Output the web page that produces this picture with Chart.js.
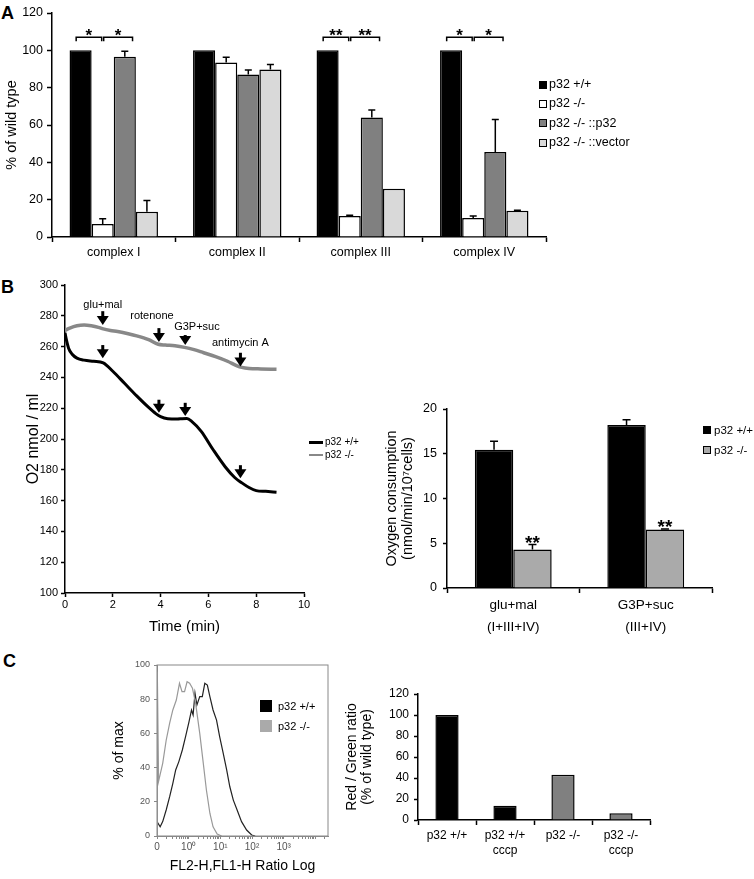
<!DOCTYPE html>
<html>
<head>
<meta charset="utf-8">
<script src="https://cdn.jsdelivr.net/npm/chart.js@4.4.1/dist/chart.umd.min.js"></script>
<style>
body { margin: 0; background: #fff; font-family: "Liberation Sans", Arial, sans-serif; }
#wrap { position: relative; width: 754px; height: 879px; overflow: hidden; }
canvas { position: absolute; }
.letter { position: absolute; font-weight: bold; font-size: 18px; line-height: 18px; }
.lg { position: absolute; white-space: nowrap; }
.lg div { display: flex; align-items: center; }
.sw { display: inline-block; box-sizing: border-box; }
</style>
</head>
<body>
<div id="wrap">
  <div class="letter" style="left:1px;top:4px">A</div>
  <div class="letter" style="left:1px;top:278px">B</div>
  <div class="letter" style="left:3px;top:652px">C</div>

  <canvas id="chartA" width="754" height="265" style="left:0;top:0"></canvas>
  <canvas id="chartB1" width="340" height="370" style="left:0;top:270px"></canvas>
  <canvas id="chartB2" width="414" height="370" style="left:340px;top:270px"></canvas>
  <canvas id="chartC1" width="240" height="229" style="left:100px;top:650px"></canvas>
  <canvas id="chartC2" width="330" height="199" style="left:330px;top:680px"></canvas>

  <div class="lg" style="left:539px;top:75px;font-size:12.5px;line-height:19.3px">
    <div><span class="sw" style="width:8px;height:8px;background:#000;border:1px solid #000;margin-right:2px"></span>p32 +/+</div>
    <div><span class="sw" style="width:8px;height:8px;background:#fff;border:1px solid #000;margin-right:2px"></span>p32 -/-</div>
    <div><span class="sw" style="width:8px;height:8px;background:#808080;border:1px solid #000;margin-right:2px"></span>p32 -/- ::p32</div>
    <div><span class="sw" style="width:8px;height:8px;background:#d9d9d9;border:1px solid #000;margin-right:2px"></span>p32 -/- ::vector</div>
  </div>

  <div class="lg" style="left:309px;top:436px;font-size:10px;line-height:12.5px">
    <div><span class="sw" style="width:14px;height:2.5px;background:#000;margin-right:2px"></span>p32 +/+</div>
    <div><span class="sw" style="width:14px;height:2.5px;background:#888;margin-right:2px"></span>p32 -/-</div>
  </div>

  <div class="lg" style="left:703px;top:420px;font-size:11.5px;line-height:20px">
    <div><span class="sw" style="width:8px;height:8px;background:#000;border:1px solid #000;margin-right:3px"></span>p32 +/+</div>
    <div><span class="sw" style="width:8px;height:8px;background:#aaa;border:1px solid #000;margin-right:3px"></span>p32 -/-</div>
  </div>

  <div class="lg" style="left:260px;top:696px;font-size:11px;line-height:20px">
    <div><span class="sw" style="width:12px;height:12px;background:#000;margin-right:6px"></span>p32 +/+</div>
    <div><span class="sw" style="width:12px;height:12px;background:#aaa;margin-right:6px"></span>p32 -/-</div>
  </div>
</div>

<script>
// ---- panel A: complex activities (% of wild type)
const complexLabels = ['complex I', 'complex II', 'complex III', 'complex IV'];
const wtValues = [100, 100, 100, 100];
const koValues = [7, 93.5, 11.2, 10.2];
const koErr = [2.8, 2.8, 0.5, 1];
const rescueValues = [96.5, 87, 64, 45.5];
const rescueErr = [3, 2.5, 4, 17.5];
const vectorValues = [13.5, 89.7, 25.8, 14];
const vectorErr = [6, 2.7, 0, 0.3];
const aTicks = [0, 20, 40, 60, 80, 100, 120];

// significance brackets (group, from bar, to bar, text)
const sigGroups = [0, 0, 2, 2, 3, 3];
const sigFrom = [0, 1, 0, 1, 0, 1];
const sigTo = [1, 2, 1, 2, 1, 2];
const sigText = ['*', '*', '**', '**', '*', '*'];
const sigLevel = 107;

// ---- panel B left: oxygen traces
const wtTime = [0, 0.05, 0.15, 0.3, 0.5, 0.8, 1.2, 1.6, 2.0, 2.5, 3.0, 3.5, 3.8, 4.0, 4.3, 4.7, 4.9, 5.1, 5.3, 5.7, 6.2, 6.7, 7.1, 7.4, 7.7, 8.0, 8.4, 8.85];
const wtO2 = [269, 265, 259, 255, 252.5, 251.2, 250.5, 249.5, 244, 236, 228, 220.5, 216.5, 214.5, 213.2, 213, 213.2, 213.3, 211.5, 205, 193, 182, 175, 171.5, 168.5, 166.5, 166, 165.5];
const koTime = [0, 0.2, 0.5, 0.8, 1.1, 1.4, 1.6, 1.9, 2.2, 2.6, 3.0, 3.5, 3.9, 4.2, 4.6, 5.0, 5.4, 5.8, 6.3, 6.8, 7.2, 7.4, 7.7, 8.2, 8.85];
const koO2 = [270.5, 272, 273.5, 274, 273.5, 272.5, 271.5, 270.5, 269.8, 268.5, 267, 264.5, 261.5, 261, 260.5, 259.5, 258, 256, 253.5, 250.5, 247.5, 246.5, 245.8, 245.5, 245.3];

const arrowTimes = [1.58, 3.93, 5.03, 7.34];
const koArrowTop = [283, 272, 267.5, 256];
const koArrowTip = [274, 263, 261, 247];
const wtArrowTop = [261, 225.5, 223.5, 183];
const wtArrowTip = [252.5, 217, 215, 174.5];
const eventLabels = ['glu+mal', 'rotenone', 'G3P+suc', 'antimycin A'];
const eventLabelTimes = [1.58, 3.64, 5.52, 7.34];
const eventLabelLevels = [287, 280, 273, 262.6];

// ---- panel B right: oxygen consumption
const substrateLabels = [['glu+mal', '(I+III+IV)'], ['G3P+suc', '(III+IV)']];
const consWT = [15.45, 18.2];
const consWTErr = [0.95, 0.6];
const consKO = [4.3, 6.55];
const consKOErr = [0.55, 0.05];
const consStars = ['**', '**'];

// ---- panel C left: flow histogram (x in decades of the ratio)
const wtDecade = [-1.0, -0.9, -0.82, -0.71, -0.6, -0.5, -0.41, -0.31, -0.2, -0.1, 0.01, 0.09, 0.14, 0.2, 0.26, 0.35, 0.43, 0.51, 0.59, 0.67, 0.77, 0.88, 0.98, 1.09, 1.2, 1.3, 1.41, 1.53, 1.67, 1.83, 1.99, 2.1];
const wtPct = [8.4, 5.4, 8.4, 15.2, 23, 30.8, 38.6, 43.5, 50.3, 58, 66.8, 73.7, 70.8, 83.5, 76.6, 81.5, 81.5, 89.3, 88.3, 81.5, 73.7, 67.8, 58, 48.4, 38.6, 28.8, 21, 15.2, 8.4, 3.5, 0.6, 0];
const koDecade = [-1.0, -0.99, -0.95, -0.9, -0.82, -0.71, -0.6, -0.5, -0.39, -0.29, -0.21, -0.13, -0.05, 0.03, 0.12, 0.22, 0.35, 0.45, 0.56, 0.67, 0.77, 0.9, 1.04];
const koPct = [0, 96, 32, 36, 42.5, 56, 66, 73.7, 79.5, 89.3, 84.4, 84.4, 90.2, 89.3, 86.4, 77.6, 60, 44.4, 26.9, 13.3, 5.4, 1.2, 0];
const flowMajor = [0.1, 1, 10, 100, 1000];
const flowMajorLabels = ['0', '10\u2070', '10\u00b9', '10\u00b2', '10\u00b3'];

// ---- panel C right: red/green ratio
const jcLabels = [['p32 +/+'], ['p32 +/+', 'cccp'], ['p32 -/-'], ['p32 -/-', 'cccp']];
const jcValues = [100, 13.5, 43, 6.5];

Chart.defaults.font.family = '"Liberation Sans", Arial, sans-serif';
Chart.defaults.color = '#000';
Chart.defaults.animation = false;
Chart.defaults.events = [];
Chart.defaults.plugins.legend.display = false;
Chart.defaults.plugins.tooltip.enabled = false;

function errorBars(capHalf) {
    return {
        id: 'errorBars',
        afterDatasetsDraw(chart) {
            const ctx = chart.ctx;
            const yScale = chart.scales.y;
            chart.data.datasets.forEach((ds, i) => {
                if (!ds.errors) return;
                chart.getDatasetMeta(i).data.forEach((bar, j) => {
                    const e = ds.errors[j];
                    if (!e) return;
                    const yTop = yScale.getPixelForValue(ds.data[j] + e);
                    ctx.save();
                    ctx.strokeStyle = '#000';
                    ctx.lineWidth = 1.5;
                    ctx.beginPath();
                    ctx.moveTo(bar.x, bar.y);
                    ctx.lineTo(bar.x, yTop);
                    ctx.moveTo(bar.x - capHalf, yTop);
                    ctx.lineTo(bar.x + capHalf, yTop);
                    ctx.stroke();
                    ctx.restore();
                });
            });
        }
    };
}

const brackets = {
    id: 'brackets',
    afterDatasetsDraw(chart) {
        const ctx = chart.ctx;
        const y = chart.scales.y.getPixelForValue(sigLevel);
        ctx.save();
        ctx.strokeStyle = '#000';
        ctx.fillStyle = '#000';
        ctx.lineWidth = 1.5;
        ctx.font = 'bold 17px "Liberation Sans", Arial';
        ctx.textAlign = 'center';
        sigGroups.forEach((g, k) => {
            const a = chart.getDatasetMeta(sigFrom[k]).data[g];
            const b = chart.getDatasetMeta(sigTo[k]).data[g];
            const x1 = sigFrom[k] === 0 ? a.x - 0.2 * a.width : a.x + 1;
            const x2 = sigFrom[k] === 0 ? b.x - 1 : b.x + 0.35 * b.width;
            ctx.beginPath();
            ctx.moveTo(x1, y + 4);
            ctx.lineTo(x1, y);
            ctx.lineTo(x2, y);
            ctx.lineTo(x2, y + 4);
            ctx.stroke();
            ctx.fillText(sigText[k], (x1 + x2) / 2, y + 4);
        });
        ctx.restore();
    }
};

function axisStyle(extra) {
    return Object.assign({
        border: { display: true, color: '#000', width: 1.5 },
        grid: { drawOnChartArea: false, drawTicks: true, tickLength: 5, color: '#000', tickColor: '#000', tickWidth: 1.5 }
    }, extra);
}

// ---------- A
new Chart(document.getElementById('chartA'), {
    type: 'bar',
    data: {
        labels: complexLabels,
        datasets: [
            { data: wtValues, backgroundColor: '#000' },
            { data: koValues, errors: koErr, backgroundColor: '#fff' },
            { data: rescueValues, errors: rescueErr, backgroundColor: '#808080' },
            { data: vectorValues, errors: vectorErr, backgroundColor: '#d9d9d9' }
        ]
    },
    options: {
        responsive: false,
        datasets: { bar: { borderColor: '#000', borderWidth: 1.5, categoryPercentage: 0.716, barPercentage: 1 } },
        layout: { padding: { left: 0, top: 13, right: 208, bottom: 0 } },
        scales: {
            x: axisStyle({
                grid: { offset: true, drawOnChartArea: false, tickLength: 5, color: '#000', tickWidth: 1.5 },
                ticks: { font: { size: 12.5 }, padding: 3 },
                afterFit: s => { s.height = 28; }
            }),
            y: axisStyle({
                min: 0, max: 120,
                afterBuildTicks: s => { s.ticks = aTicks.map(v => ({ value: v })); },
                ticks: { font: { size: 12.5 }, padding: 4 },
                title: { display: true, text: '% of wild type', font: { size: 14.5 }, padding: { top: 3 } },
                afterFit: s => { s.width = 52; }
            })
        }
    },
    plugins: [errorBars(3.5), brackets]
});

// ---------- B left
const eventArrows = {
    id: 'eventArrows',
    afterDatasetsDraw(chart) {
        const ctx = chart.ctx;
        const xs = chart.scales.x, ys = chart.scales.y;
        ctx.save();
        ctx.fillStyle = '#000';
        ctx.strokeStyle = '#000';
        const drawArrow = (t, top, tip) => {
            const x = xs.getPixelForValue(t);
            const y1 = ys.getPixelForValue(top);
            const y2 = ys.getPixelForValue(tip);
            ctx.lineWidth = 3;
            ctx.beginPath();
            ctx.moveTo(x, y1);
            ctx.lineTo(x, y2 - 7);
            ctx.stroke();
            ctx.beginPath();
            ctx.moveTo(x - 6, y2 - 9);
            ctx.lineTo(x + 6, y2 - 9);
            ctx.lineTo(x, y2);
            ctx.closePath();
            ctx.fill();
        };
        arrowTimes.forEach((t, i) => {
            drawArrow(t, koArrowTop[i], koArrowTip[i]);
            drawArrow(t, wtArrowTop[i], wtArrowTip[i]);
        });
        ctx.font = '11px "Liberation Sans", Arial';
        ctx.textAlign = 'center';
        ctx.textBaseline = 'middle';
        eventLabels.forEach((txt, i) => {
            ctx.fillText(txt, xs.getPixelForValue(eventLabelTimes[i]), ys.getPixelForValue(eventLabelLevels[i]));
        });
        ctx.restore();
    }
};

new Chart(document.getElementById('chartB1'), {
    type: 'scatter',
    data: {
        datasets: [
            { data: koTime.map((t, i) => ({ x: t, y: koO2[i] })), borderColor: '#888', borderWidth: 3.5, showLine: true, pointRadius: 0, cubicInterpolationMode: 'monotone' },
            { data: wtTime.map((t, i) => ({ x: t, y: wtO2[i] })), borderColor: '#000', borderWidth: 3, showLine: true, pointRadius: 0, cubicInterpolationMode: 'monotone' }
        ]
    },
    options: {
        responsive: false,
        layout: { padding: { left: 20, top: 15, right: 36, bottom: 0 } },
        scales: {
            x: axisStyle({
                type: 'linear', min: 0, max: 10,
                ticks: { stepSize: 2, font: { size: 11 }, padding: 1 },
                grid: { drawOnChartArea: false, tickLength: 4, color: '#000', tickWidth: 1.5 },
                title: { display: true, text: 'Time (min)', font: { size: 15 }, padding: { bottom: 4 } },
                afterFit: s => { s.height = 47; }
            }),
            y: axisStyle({
                min: 100, max: 300,
                ticks: { stepSize: 20, font: { size: 11 }, padding: 3 },
                grid: { drawOnChartArea: false, tickLength: 4, color: '#000', tickWidth: 1.5 },
                title: { display: true, text: 'O2 nmol / ml', font: { size: 16 }, padding: { top: 4 } },
                afterFit: s => { s.width = 45; }
            })
        }
    },
    plugins: [eventArrows]
});

// ---------- B right
const starsB = {
    id: 'starsB',
    afterDatasetsDraw(chart) {
        const ctx = chart.ctx;
        const ds = chart.data.datasets[1];
        ctx.save();
        ctx.fillStyle = '#000';
        ctx.font = 'bold 19px "Liberation Sans", Arial';
        ctx.textAlign = 'center';
        chart.getDatasetMeta(1).data.forEach((bar, j) => {
            const y = chart.scales.y.getPixelForValue(ds.data[j] + ds.errors[j]);
            ctx.fillText(consStars[j], bar.x, y + 4);
        });
        ctx.restore();
    }
};

new Chart(document.getElementById('chartB2'), {
    type: 'bar',
    data: {
        labels: substrateLabels,
        datasets: [
            { data: consWT, errors: consWTErr, backgroundColor: '#000' },
            { data: consKO, errors: consKOErr, backgroundColor: '#aaa' }
        ]
    },
    options: {
        responsive: false,
        datasets: { bar: { borderColor: '#000', borderWidth: 1.5, categoryPercentage: 0.58, barPercentage: 1 } },
        layout: { padding: { left: 40, top: 139, right: 42, bottom: 0 } },
        scales: {
            x: axisStyle({
                grid: { offset: true, drawOnChartArea: false, tickLength: 5, color: '#000', tickWidth: 1.5 },
                ticks: { font: { size: 13.5, lineHeight: 1.65 }, padding: 1 },
                afterFit: s => { s.height = 52; }
            }),
            y: axisStyle({
                min: 0, max: 20,
                ticks: { stepSize: 5, font: { size: 12.5 }, padding: 6 },
                grid: { drawOnChartArea: false, tickLength: 4, color: '#000', tickWidth: 1.5 },
                title: { display: true, text: ['Oxygen consumption', '(nmol/min/10\u2077cells)'], font: { size: 14.5, lineHeight: 1.1 }, padding: { top: 4 } },
                afterFit: s => { s.width = 67; }
            })
        }
    },
    plugins: [errorBars(4), starsB]
});

// ---------- C left
const boxBorder = {
    id: 'boxBorder',
    afterDraw(chart) {
        const a = chart.chartArea, ctx = chart.ctx;
        ctx.save();
        ctx.strokeStyle = '#888';
        ctx.lineWidth = 1;
        ctx.strokeRect(a.left, a.top, a.right - a.left, a.bottom - a.top);
        ctx.restore();
    }
};

const flowTicks = [];
for (let k = -1; k <= 4; k++) {
    for (let m = 1; m <= 9; m++) {
        const v = m * Math.pow(10, k);
        if (v <= Math.pow(10, 4.4)) flowTicks.push(v);
    }
}

new Chart(document.getElementById('chartC1'), {
    type: 'scatter',
    data: {
        datasets: [
            { data: koDecade.map((d, i) => ({ x: Math.pow(10, d), y: koPct[i] })), borderColor: '#999', borderWidth: 1.2, showLine: true, pointRadius: 0 },
            { data: wtDecade.map((d, i) => ({ x: Math.pow(10, d), y: wtPct[i] })), borderColor: '#222', borderWidth: 1.2, showLine: true, pointRadius: 0 }
        ]
    },
    options: {
        responsive: false,
        layout: { padding: { left: 7, top: 15, right: 12, bottom: 0 } },
        scales: {
            x: {
                type: 'logarithmic', min: 0.1, max: Math.pow(10, 4.4),
                border: { display: true, color: '#888', width: 1 },
                grid: { drawOnChartArea: false, tickLength: 3, color: '#888' },
                afterBuildTicks: s => { s.ticks = flowTicks.map(v => ({ value: v })); },
                ticks: {
                    autoSkip: false, maxRotation: 0, color: '#555', font: { size: 10 }, padding: 2,
                    callback: v => {
                        const i = flowMajor.findIndex(m => Math.abs(m - v) < m * 1e-6);
                        return i >= 0 ? flowMajorLabels[i] : '';
                    }
                },
                title: { display: true, text: 'FL2-H,FL1-H Ratio Log', font: { size: 14 }, padding: { bottom: 4 } },
                afterFit: s => { s.height = 43; }
            },
            y: {
                min: 0, max: 100,
                border: { display: true, color: '#888', width: 1 },
                grid: { drawOnChartArea: false, tickLength: 3, color: '#888' },
                ticks: { stepSize: 20, color: '#555', font: { size: 9 }, padding: 4 },
                title: { display: true, text: '% of max', font: { size: 14 }, padding: { top: 4 } },
                afterFit: s => { s.width = 50; }
            }
        }
    },
    plugins: [boxBorder]
});

// ---------- C right
new Chart(document.getElementById('chartC2'), {
    type: 'bar',
    data: {
        labels: jcLabels,
        datasets: [
            { data: jcValues, backgroundColor: ['#000', '#000', '#808080', '#808080'] }
        ]
    },
    options: {
        responsive: false,
        datasets: { bar: { borderColor: '#000', borderWidth: 1.5, categoryPercentage: 0.4, barPercentage: 1 } },
        layout: { padding: { left: 10, top: 14, right: 10, bottom: 0 } },
        scales: {
            x: axisStyle({
                grid: { offset: true, drawOnChartArea: false, tickLength: 5, color: '#000', tickWidth: 1.5 },
                ticks: { font: { size: 12, lineHeight: 1.25 }, padding: 3 },
                afterFit: s => { s.height = 59; }
            }),
            y: axisStyle({
                min: 0, max: 120,
                ticks: { stepSize: 20, font: { size: 12 }, padding: 5 },
                grid: { drawOnChartArea: false, tickLength: 4, color: '#000', tickWidth: 1.5 },
                title: { display: true, text: ['Red / Green ratio', '(% of wild type)'], font: { size: 14, lineHeight: 1.1 }, padding: { top: 4 } },
                afterFit: s => { s.width = 78; }
            })
        }
    }
});
</script>
</body>
</html>
